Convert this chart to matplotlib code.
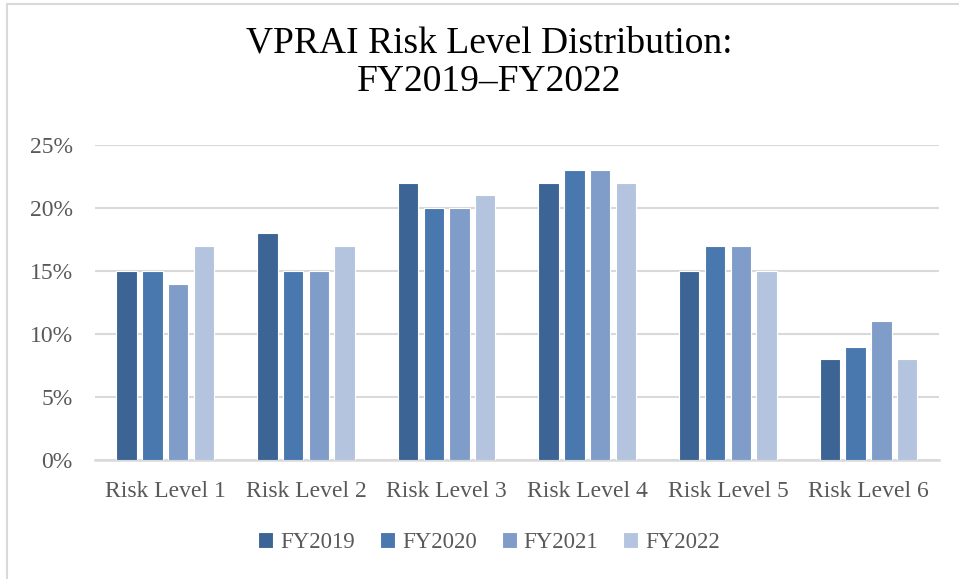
import matplotlib.pyplot as plt
import matplotlib.patches as mpatches
import numpy as np

categories = ["Risk Level 1", "Risk Level 2", "Risk Level 3", "Risk Level 4", "Risk Level 5", "Risk Level 6"]
years = ["FY2019", "FY2020", "FY2021", "FY2022"]
fy2019 = [15, 18, 22, 22, 15, 8]
fy2020 = [15, 15, 20, 23, 17, 9]
fy2021 = [14, 15, 20, 23, 17, 11]
fy2022 = [17, 17, 21, 22, 15, 8]
colors = ["#3c6595", "#4878ae", "#7f9dc8", "#b4c4df"]

plt.rcParams['font.family'] = ['Liberation Serif', 'DejaVu Serif']

fig = plt.figure(figsize=(9.59, 5.79), dpi=100)
ax = fig.add_axes([0.099, 0.2055, 0.880, 0.544])

x = np.arange(len(categories))
step = 0.183
width = 0.145
series = [fy2019, fy2020, fy2021, fy2022]
for i, (vals, c, lab) in enumerate(zip(series, colors, years)):
    ax.bar(x + (i - 1.5) * step, np.array(vals) / 100, width, color=c,
           edgecolor="white", linewidth=0.8, label=lab, zorder=3)

ax.set_xlim(-0.5, len(categories) - 0.5)
ax.set_ylim(0, 0.25)
ax.set_yticks([0, 0.05, 0.10, 0.15, 0.20, 0.25])
ax.set_yticklabels(["0%", "5%", "10%", "15%", "20%", "25%"])
ax.set_xticks(x)
ax.set_xticklabels(categories)
ax.tick_params(axis='both', length=0, labelsize=17, colors="#595959")
ax.tick_params(axis='y', pad=16)
ax.tick_params(axis='x', pad=15)
ax.grid(axis='y', color="#d9d9d9", linewidth=1.5, zorder=0)
for s in ["top", "right", "left"]:
    ax.spines[s].set_visible(False)
ax.spines["bottom"].set_color("#d9d9d9")
ax.spines["bottom"].set_linewidth(1.8)

fig.suptitle("VPRAI Risk Level Distribution:\nFY2019\u2013FY2022", x=0.51, y=0.955,
             fontsize=27, linespacing=1.15, color="black")

leg = fig.legend(loc="center", bbox_to_anchor=(0.51, 0.063), ncol=4, frameon=False,
                 fontsize=16.5, handlelength=0.65, handleheight=0.65, handletextpad=0.3,
                 columnspacing=1.1)
for t in leg.get_texts():
    t.set_color("#595959")

fig.patches.append(mpatches.Rectangle((0.0075, -0.05), 1.1, 1.0434, transform=fig.transFigure,
                                      fill=False, edgecolor="#d9d9d9", linewidth=1.5))

fig.savefig("out.png", dpi=100)
